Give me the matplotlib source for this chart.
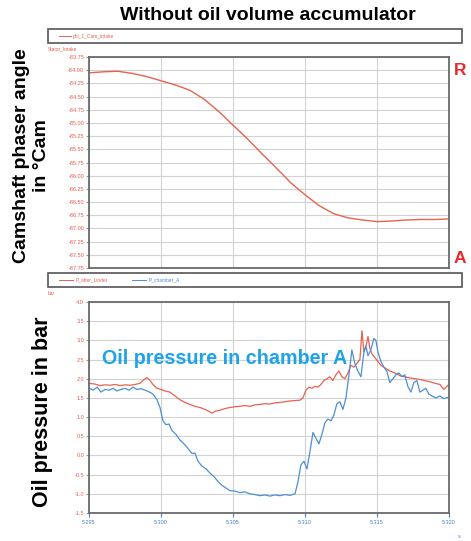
import numpy as np
import matplotlib
matplotlib.use("Agg")
from matplotlib import pyplot as plt
from matplotlib.patches import Rectangle
from matplotlib.lines import Line2D

plt.rcParams["font.family"] = ["Liberation Sans", "DejaVu Sans"]

T0 = 5.295  # s, start of the window

# camshaft phaser angle, one sample per ms
cam_ms = list(range(26))
cam_angle = [-84.05, -84.03, -84.02, -84.06, -84.12, -84.20, -84.28, -84.38, -84.55,
             -84.78, -85.04, -85.30, -85.58, -85.85, -86.13, -86.36, -86.57, -86.72,
             -86.80, -86.84, -86.87, -86.86, -86.84, -86.83, -86.83, -86.82]

# oil pressure after cylinder (red)
p_after_ms = [0.00, 0.42, 0.76, 1.11, 1.46, 1.81, 2.15, 2.50, 2.85, 3.19, 3.54, 3.82, 4.03,
              4.24, 4.44, 4.72, 5.00, 5.28, 5.63, 5.97, 6.32, 6.67, 7.01, 7.36, 7.71, 8.06,
              8.33, 8.54, 8.75, 9.10, 9.44, 9.79, 10.14, 10.49, 10.83, 11.18, 11.53, 11.88,
              12.22, 12.57, 12.92, 13.26, 13.61, 13.96, 14.31, 14.65, 14.86, 15.07, 15.28,
              15.49, 15.69, 15.90, 16.11, 16.32, 16.53, 16.74, 16.94, 17.15, 17.36, 17.57,
              17.78, 17.99, 18.19, 18.40, 18.61, 18.82, 18.96, 19.10, 19.24, 19.38, 19.51,
              19.65, 19.86, 20.07, 20.28, 20.56, 20.90, 21.25, 21.60, 21.94, 22.29, 22.64,
              22.99, 23.33, 23.68, 24.03, 24.38, 24.65, 24.86, 25.00]
p_after = [1.88, 1.86, 1.82, 1.84, 1.83, 1.85, 1.82, 1.84, 1.83, 1.85, 1.88, 1.98, 2.03,
           1.95, 1.85, 1.75, 1.72, 1.68, 1.65, 1.55, 1.45, 1.38, 1.33, 1.28, 1.25, 1.20,
           1.15, 1.10, 1.15, 1.18, 1.22, 1.25, 1.27, 1.28, 1.30, 1.28, 1.32, 1.33,
           1.35, 1.34, 1.37, 1.38, 1.40, 1.42, 1.43, 1.44, 1.50, 1.70, 1.78,
           1.75, 1.80, 1.78, 1.85, 1.95, 2.00, 2.05, 1.95, 2.10, 2.20, 2.05,
           2.00, 2.15, 2.35, 2.30, 2.40, 2.50, 3.25, 2.70, 2.85, 3.10, 2.80,
           2.65, 2.55, 2.45, 2.35, 2.28, 2.20, 2.15, 2.08, 2.05, 2.02, 2.00,
           1.98, 1.95, 1.92, 1.88, 1.85, 1.72, 1.80, 1.85]

# oil pressure in chamber A (blue)
p_cham_ms = [0.00, 0.28, 0.56, 0.83, 1.11, 1.39, 1.67, 1.94, 2.22, 2.50, 2.78, 3.06, 3.33,
             3.61, 3.89, 4.17, 4.44, 4.72, 4.93, 5.14, 5.35, 5.56, 5.76, 6.04, 6.32, 6.60,
             6.88, 7.15, 7.36, 7.57, 7.85, 8.13, 8.40, 8.68, 8.96, 9.24, 9.51, 9.79, 10.14,
             10.49, 10.83, 11.18, 11.53, 11.88, 12.22, 12.57, 12.92, 13.26, 13.61, 13.96,
             14.31, 14.51, 14.72, 14.93, 15.14, 15.35, 15.56, 15.76, 15.97, 16.18, 16.39,
             16.60, 16.81, 17.01, 17.22, 17.43, 17.64, 17.85, 18.06, 18.26, 18.47, 18.68,
             18.89, 19.10, 19.24, 19.38, 19.58, 19.79, 19.93, 20.07, 20.28, 20.49, 20.69,
             20.90, 21.11, 21.32, 21.53, 21.74, 21.94, 22.15, 22.36, 22.57, 22.78, 22.99,
             23.19, 23.40, 23.61, 23.82, 24.10, 24.38, 24.65, 25.00]
p_cham = [1.76, 1.70, 1.78, 1.65, 1.72, 1.70, 1.75, 1.68, 1.72, 1.75, 1.70, 1.78, 1.72,
          1.74, 1.70, 1.66, 1.60, 1.45, 1.25, 0.90, 0.80, 0.82, 0.65, 0.55, 0.40, 0.30,
          0.18, 0.05, 0.06, -0.15, -0.28, -0.35, -0.46, -0.55, -0.68, -0.78, -0.85, -0.92, -0.93,
          -0.97, -0.95, -1.00, -1.02, -1.05, -1.03, -1.06, -1.03, -1.05, -1.02, -1.04,
          -1.00, -0.70, -0.25, -0.15, -0.35, 0.10, 0.60, 0.45, 0.30, 0.55, 0.85,
          0.95, 0.90, 1.05, 1.35, 1.40, 1.20, 1.50, 2.10, 2.75, 2.40, 2.20,
          2.05, 2.70, 2.85, 2.60, 2.75, 3.05, 3.00, 2.70, 2.45, 2.30, 2.20,
          1.90, 2.00, 2.10, 2.15, 2.05, 2.10, 1.80, 1.65, 1.90, 1.95, 1.65,
          1.70, 1.75, 1.60, 1.55, 1.50, 1.55, 1.48, 1.52]

cam_ticks = [-83.75 - 0.25 * i for i in range(17)]
p_ticks = [4.0 - 0.5 * i for i in range(12)]
t_ticks = [5.295, 5.300, 5.305, 5.310, 5.315, 5.320]

RED = "#e8624f"
BLUE = "#4d8fd3"
TICK_RED = "#ee5a50"
TICK_BLUE = "#4a7fc8"
GRID = "#d2d2d2"
SPINE = "#6a6a6a"

fig = plt.figure(figsize=(4.71, 5.41), dpi=100)
ax1 = fig.add_axes([0.189, 0.5046, 0.764, 0.390])
ax2 = fig.add_axes([0.189, 0.0518, 0.764, 0.390])


def style(ax, yticks, fmt):
    ax.set_xlim(T0, 5.320)
    ax.set_xticks(t_ticks)
    ax.set_yticks(yticks)
    ax.set_ylim(min(yticks), max(yticks))
    ax.grid(True, color=GRID, lw=0.8)
    for s in ax.spines.values():
        s.set_color(SPINE)
        s.set_linewidth(1.3)
    ax.tick_params(axis="y", labelsize=4, labelcolor=TICK_RED, color="#999999",
                   length=2.5, width=0.8, pad=1)
    ax.set_yticklabels([fmt.format(v) for v in yticks])


style(ax1, cam_ticks, "{:.2f}")
ax1.tick_params(axis="x", length=0, labelbottom=False)
ax1.plot(T0 + np.array(cam_ms) / 1000, cam_angle, color=RED, lw=1.0)

style(ax2, p_ticks, "{:.1f}")
ax2.tick_params(axis="x", labelsize=4, labelcolor=TICK_BLUE, color=TICK_BLUE,
                length=3, width=0.8, pad=2)
ax2.set_xticklabels([f"{v:.3f}" for v in t_ticks])
ax2.plot(T0 + np.array(p_after_ms) / 1000, p_after, color=RED, lw=0.9)
ax2.plot(T0 + np.array(p_cham_ms) / 1000, p_cham, color=BLUE, lw=0.9)

# legend bars above each panel
for y0 in (0.920, 0.4695):
    fig.patches.append(Rectangle((0.102, y0), 0.879, 0.026, transform=fig.transFigure,
                                 fill=False, ec="#555555", lw=1.2))
fig.lines.append(Line2D([0.125, 0.150], [0.933, 0.933], transform=fig.transFigure, color=RED, lw=0.7))
fig.text(0.155, 0.933, "phi_1_Cam_intake", color=RED, fontsize=3.5, va="center")
fig.lines.append(Line2D([0.125, 0.155], [0.482, 0.482], transform=fig.transFigure, color=RED, lw=0.7))
fig.text(0.160, 0.482, "P_after_Linder", color=RED, fontsize=3.5, va="center")
fig.lines.append(Line2D([0.280, 0.310], [0.482, 0.482], transform=fig.transFigure, color=BLUE, lw=0.7))
fig.text(0.315, 0.482, "P_chamber_A", color=BLUE, fontsize=3.5, va="center")

fig.text(0.102, 0.909, "Stator_Intake", color=TICK_RED, fontsize=3.5, va="center")
fig.text(0.102, 0.458, "bar", color=TICK_RED, fontsize=3.5, va="center")
fig.text(0.975, 0.008, "s", color=TICK_BLUE, fontsize=4, ha="center", va="center")

fig.text(0.569, 0.972, "Without oil volume accumulator", fontsize=14, fontweight="bold",
         ha="center", va="center")
fig.text(0.067, 0.713, "Camshaft phaser angle\nin \u00b0Cam", fontsize=14, fontweight="bold",
         rotation=90, ha="center", va="center", linespacing=1.25)
fig.text(0.091, 0.238, "Oil pressure in bar", fontsize=15.5, fontweight="bold",
         rotation=90, ha="center", va="center")
fig.text(0.976, 0.870, "R", fontsize=12.5, fontweight="bold", color="#e8282b",
         ha="center", va="center")
fig.text(0.976, 0.523, "A", fontsize=12.5, fontweight="bold", color="#e8282b",
         ha="center", va="center")
ax2.text(0.036, 0.73, "Oil pressure in chamber A", transform=ax2.transAxes, fontsize=14.2,
         fontweight="bold", color="#1ea3e8", ha="left", va="center")

fig.savefig("out.png", dpi=100)
